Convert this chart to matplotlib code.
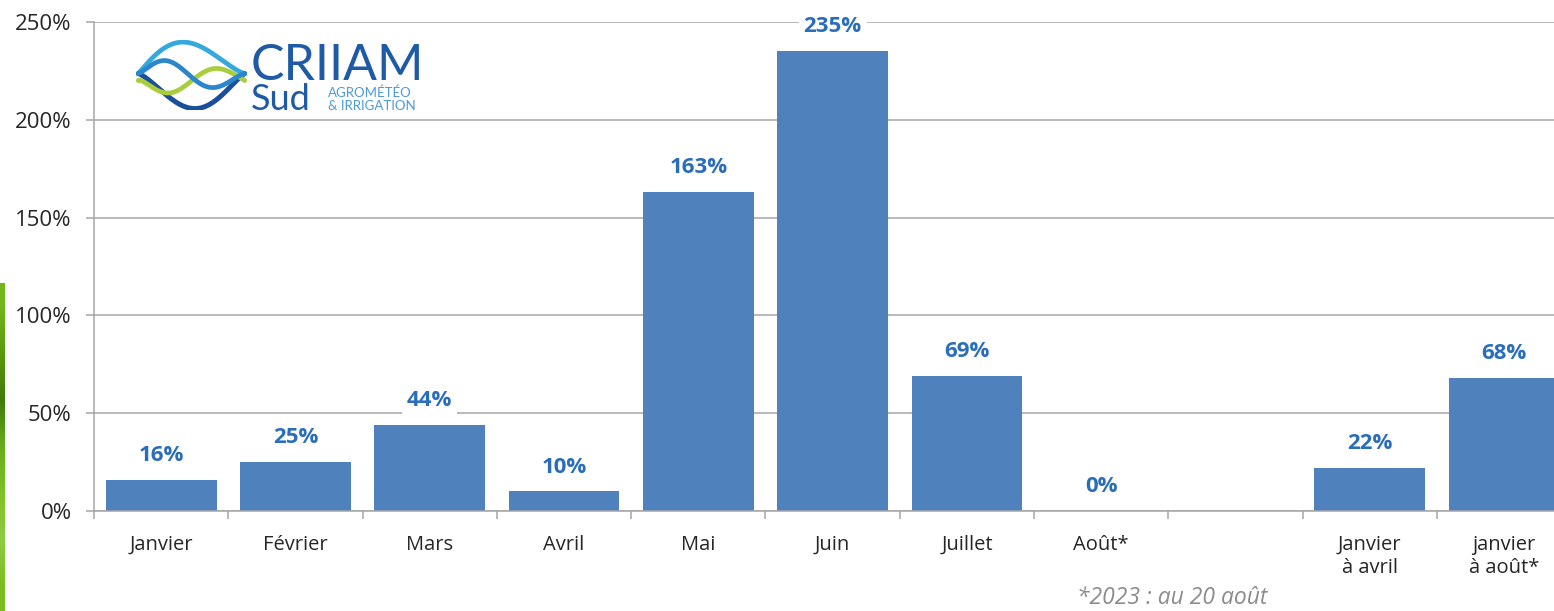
import numpy as np
import matplotlib
matplotlib.use("Agg")
import matplotlib.pyplot as plt

# ---- data ----
categories = ["Janvier", "Février", "Mars", "Avril", "Mai", "Juin", "Juillet",
              "Août*", "", "Janvier\nà avril", "janvier\nà août*"]
values = [16, 25, 44, 10, 163, 235, 69, 0, None, 22, 68]
value_labels = ["16%", "25%", "44%", "10%", "163%", "235%", "69%", "0%", "", "22%", "68%"]
yticks = [0, 50, 100, 150, 200, 250]
ytick_labels = ["0%", "50%", "100%", "150%", "200%", "250%"]
footnote = "*2023 : au 20 août"

W, H = 1554, 611
fig = plt.figure(figsize=(W / 100, H / 100), dpi=100)
plt.rcParams['font.family'] = ['Open Sans', 'DejaVu Sans']

ax_left, ax_bottom, ax_top = 94, 100, 589
ax = fig.add_axes([ax_left / W, ax_bottom / H, 1 - ax_left / W, (ax_top - ax_bottom) / H])

bar_color = "#4F81BD"
lab_color = "#2A6EBB"
grid_color = "#A6A6A6"
text_color = "#262626"

x = np.arange(len(categories))
for xi, v, lab in zip(x, values, value_labels):
    if v is None:
        continue
    ax.bar(xi, v, width=0.825, color=bar_color, zorder=2)
    ax.annotate(lab, (xi, v), xytext=(0, 10), textcoords="offset points",
                ha="center", va="bottom", fontsize=16, fontweight="bold",
                color=lab_color, zorder=4,
                bbox=dict(facecolor="white", edgecolor="none", pad=3.5))

ax.set_yticks(yticks)
ax.set_yticklabels(ytick_labels, fontsize=16, color=text_color)
ax.yaxis.grid(True, color=grid_color, linewidth=1.1, zorder=0)
ax.set_axisbelow(True)
ax.tick_params(axis="y", length=6, color=grid_color, width=1.1, pad=10)

ax.set_xticks(np.arange(-0.5, len(categories), 1.0))
ax.set_xticklabels([])
ax.tick_params(axis="x", which="major", length=6, color=grid_color, width=1.1)
ax.set_xticks(x, minor=True)
ax.set_xticklabels(categories, minor=True, fontsize=14.5, color=text_color,
                   linespacing=1.2)
ax.tick_params(axis="x", which="minor", length=0, pad=17)

unit = 134.3
ax.set_xlim(-0.5, -0.5 + (W - ax_left) / unit)
ax.set_ylim(0, 250)

for s in ["top", "right"]:
    ax.spines[s].set_visible(False)
for s in ["left", "bottom"]:
    ax.spines[s].set_color(grid_color)
    ax.spines[s].set_linewidth(1.1)

# footnote
fig.text(1077 / W, (H - 598) / H, footnote, fontsize=16.5, style="italic",
         color="#8C8C8C", ha="left", va="center")

# decorative green strip on the left edge
gax = fig.add_axes([0, 0, 5 / W, (H - 283) / H])
grad = np.array([[0.45, 0.72, 0.10], [0.35, 0.60, 0.05], [0.25, 0.48, 0.05],
                 [0.40, 0.68, 0.10], [0.50, 0.76, 0.15], [0.55, 0.80, 0.25],
                 [0.48, 0.74, 0.12]])
gax.imshow(grad[:, None, :], aspect="auto", interpolation="bilinear")
gax.axis("off")

# logo
lax = fig.add_axes([136 / W, (H - 110) / H, 112 / W, 70 / H])
lax.set_xlim(0, 1)
lax.set_ylim(0, 1)
lax.axis("off")
t = np.linspace(0, 1, 300)
xl, xr = 0.02, 0.97
xx = xl + (xr - xl) * t
skew = t ** 0.8
top = 0.52 + 0.45 * np.sin(np.pi * skew) ** 1.3
bot = 0.52 - 0.50 * np.sin(np.pi * t ** 1.1) ** 1.2
wave1 = 0.52 + 0.22 * np.sin(2 * np.pi * t ** 0.9) * np.sin(np.pi * t) ** 0.4
wave2 = 0.42 - 0.20 * np.sin(2 * np.pi * (t ** 0.9 - 0.04)) * np.sin(np.pi * t) ** 0.4
lax.plot(xx, top, color="#35A8DE", lw=3.4, solid_capstyle="round")
lax.plot(xx, bot, color="#1B4F9C", lw=3.6, solid_capstyle="round")
lax.plot(xx, wave2, color="#A9CD3C", lw=3.4, solid_capstyle="round")
lax.plot(xx, wave1, color="#2B86CC", lw=3.4, solid_capstyle="round")

logo_font = ['Lato', 'DejaVu Sans']
fig.text(251 / W, (H - 80) / H, "CRIIAM", fontsize=36, color="#1E5AA6",
         family=logo_font, ha="left", va="baseline")
fig.text(251 / W, (H - 110) / H, "Sud", fontsize=26, color="#1E5AA6",
         family=logo_font, ha="left", va="baseline")
fig.text(328 / W, (H - 97) / H, "AGROMÉTÉO", fontsize=9.5, color="#4A9BD6",
         family=logo_font, ha="left", va="baseline")
fig.text(328 / W, (H - 110) / H, "& IRRIGATION", fontsize=9.5, color="#4A9BD6",
         family=logo_font, ha="left", va="baseline")

fig.savefig("out.png", dpi=100)
